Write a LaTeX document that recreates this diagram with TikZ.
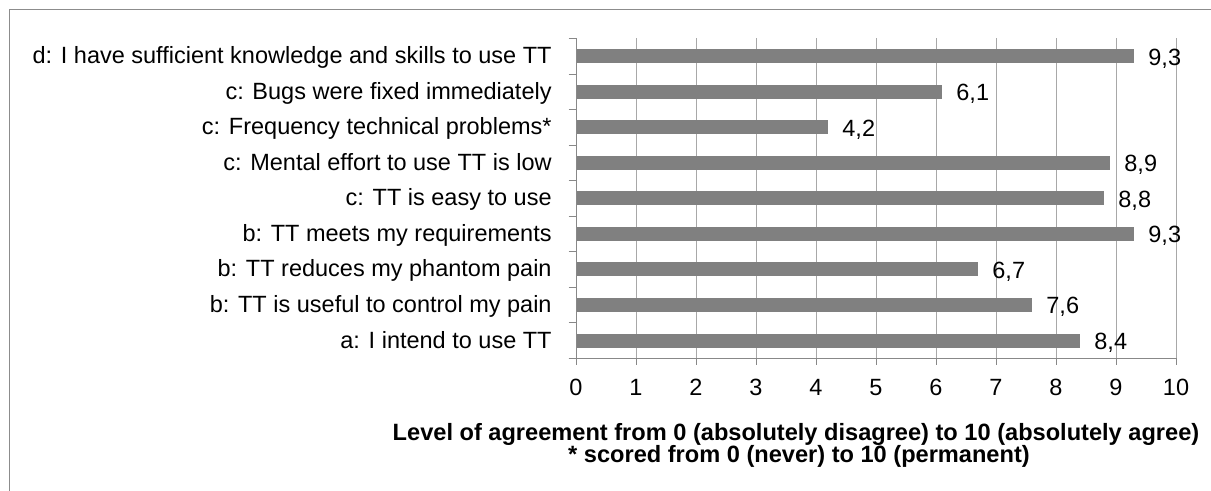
\documentclass[tikz,border=0pt]{standalone}
\usepackage{fontspec}
\setmainfont{Liberation Sans}
\usetikzlibrary{calc}
\definecolor{bargray}{HTML}{808080}
\definecolor{gridgray}{HTML}{A8A8A8}
\definecolor{axisgray}{HTML}{888888}
\definecolor{framegray}{HTML}{8C8C8C}
\newcommand\rowh{35.53}

\begin{document}
\begin{tikzpicture}[x=0.5pt,y=-0.5pt,
    lab/.style={inner sep=0pt,font=\fontsize{11.75}{13}\selectfont},
    ttl/.style={inner sep=0pt,font=\bfseries\fontsize{11.8}{13}\selectfont}]
    \useasboundingbox (0,0) rectangle (1211,491);
    \draw[framegray] (9,491) -- (9,9) -- (1211,9); % outer frame

    \coordinate (top) at (576,38.5);
    \coordinate (orig) at (576,358.3);

    % vertical grid
    \foreach \k in {1,...,10}{
        \draw[gridgray] ($(top)+(60*\k,0)$) -- ($(orig)+(60*\k,0)$);
    }

    % bars, category labels and values
    \foreach \val/\num/\txt [count=\i] in {
        9.3/{9,3}/{d: I have sufficient knowledge and skills to use TT},
        6.1/{6,1}/{c: Bugs were fixed immediately},
        4.2/{4,2}/{c: Frequency technical problems*},
        8.9/{8,9}/{c: Mental effort to use TT is low},
        8.8/{8,8}/{c: TT is easy to use},
        9.3/{9,3}/{b: TT meets my requirements},
        6.7/{6,7}/{b: TT reduces my phantom pain},
        7.6/{7,6}/{b: TT is useful to control my pain},
        8.4/{8,4}/{a: I intend to use TT}}{
        \coordinate (row\i) at ($(top)+(0,{(\i-0.5)*\rowh})$);
        \fill[bargray] ($(row\i)+(1,-7)$) rectangle ($(row\i)+(60*\val,7)$);
        \node[lab,anchor=base east] (lab\i) at ($(row\i)+(-24,7.5)$) {\txt};
        \node[lab,anchor=base west] (val\i) at ($(row\i)+(60*\val+14,9)$) {\num};
    }

    % axes
    \draw[axisgray] (top) -- (orig) -- ($(orig)+(600,0)$);
    \foreach \j in {0,...,9}{
        \draw[axisgray] ($(top)+(-7.5,{\j*\rowh})$) -- ($(top)+(0,{\j*\rowh})$);
    }
    \draw[axisgray] ($(orig)+(-7.5,0)$) -- (orig);
    \foreach \k in {0,...,10}{
        \draw[axisgray] ($(orig)+(60*\k,0)$) -- ($(orig)+(60*\k,6.5)$);
        \node[lab,anchor=base] (tick\k) at ($(orig)+(60*\k,37)$) {\k};
    }

    % axis title
    \node[ttl,anchor=base] (title1) at (796,440.5)
        {Level of agreement from 0 (absolutely disagree) to 10 (absolutely agree)};
    \node[ttl,anchor=base] (title2) at (799,462.5)
        {* scored from 0 (never) to 10 (permanent)};
\end{tikzpicture}
\end{document}
